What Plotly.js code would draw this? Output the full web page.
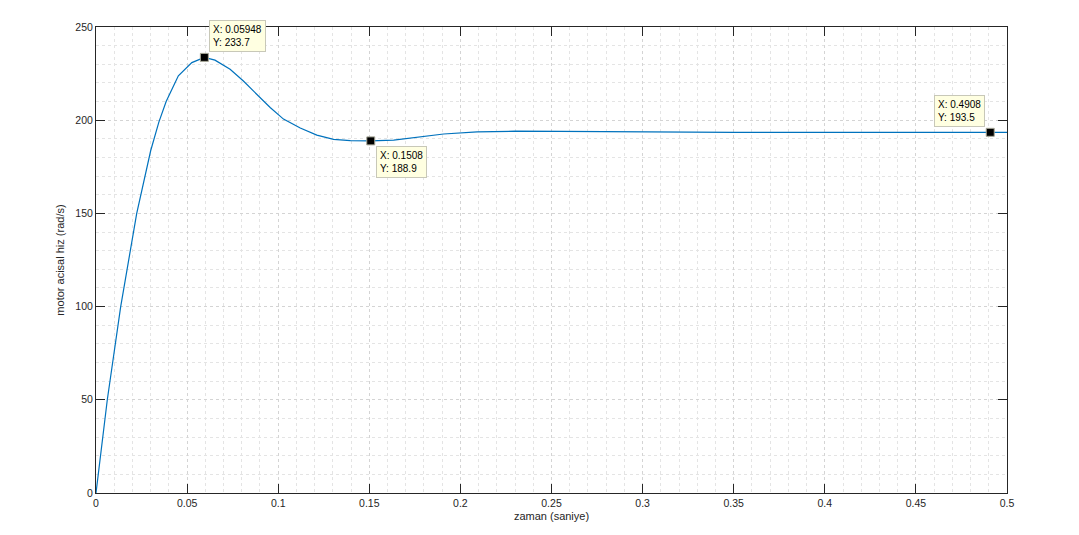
<!DOCTYPE html>
<html>
<head>
<meta charset="utf-8">
<script src="https://cdn.plot.ly/plotly-3.0.1.min.js"></script>
<style>html,body{margin:0;padding:0;background:#fff;}#chart{width:1079px;height:535px;}</style>
</head>
<body>
<div id="chart"></div>
<script>
// time (s)
const timeS = [0, 0.0062, 0.01355, 0.02235, 0.030, 0.0345, 0.0385, 0.0452, 0.0526, 0.05948,
  0.0653, 0.0736, 0.0809, 0.0883, 0.0956, 0.1029, 0.1121, 0.1212, 0.1304, 0.1396, 0.1508,
  0.1634, 0.176, 0.1908, 0.2092, 0.23, 0.255, 0.28, 0.31, 0.35, 0.4, 0.45, 0.4908, 0.5];
// motor angular speed (rad/s)
const speed = [0, 50, 100, 150, 183.6, 199, 210, 223.8, 230.9, 233.7,
  232.2, 227.3, 221, 214, 206.8, 200.6, 195.8, 192, 189.7, 189.0, 188.9,
  189.3, 190.7, 192.6, 193.7, 194.1, 194.0, 193.8, 193.6, 193.5, 193.5, 193.5, 193.5, 193.5];
// data tips
const tipX = [0.05948, 0.1508, 0.4908];
const tipY = [233.7, 188.9, 193.5];
const tipXLabel = ["0.05948", "0.1508", "0.4908"];
const tipYLabel = ["233.7", "188.9", "193.5"];

const xTicks = [0, 0.05, 0.1, 0.15, 0.2, 0.25, 0.3, 0.35, 0.4, 0.45, 0.5];
const xTickLabels = ["0", "0.05", "0.1", "0.15", "0.2", "0.25", "0.3", "0.35", "0.4", "0.45", "0.5"];
const yTicks = [0, 50, 100, 150, 200, 250];
const yTickLabels = ["0", "50", "100", "150", "200", "250"];

const tipPlace = [
  {xanchor: 'left', yanchor: 'bottom', xshift: 5, yshift: 5},
  {xanchor: 'left', yanchor: 'top', xshift: 5, yshift: -5},
  {xanchor: 'right', yanchor: 'bottom', xshift: -5, yshift: 5}
];

const annotations = tipX.map((x, i) => Object.assign({
  x: x, y: tipY[i], xref: 'x', yref: 'y',
  text: 'X: ' + tipXLabel[i] + '<br>Y: ' + tipYLabel[i],
  showarrow: false, align: 'left',
  bgcolor: '#ffffe1', bordercolor: '#c8c8b8', borderwidth: 1, borderpad: 3,
  font: {family: 'Liberation Sans, Arial, sans-serif', size: 10, color: '#000'}
}, tipPlace[i]));

const traces = [
  {x: timeS, y: speed, type: 'scatter', mode: 'lines',
   line: {color: '#0072bd', width: 1.2}, hoverinfo: 'x+y'},
  {x: tipX, y: tipY, type: 'scatter', mode: 'markers',
   marker: {symbol: 'square', size: 8, color: '#000', line: {color: '#a8a898', width: 1}}}
];

const axisCommon = {
  showline: true, linecolor: '#262626', linewidth: 1, mirror: 'ticks',
  ticks: 'inside', ticklen: 9, tickwidth: 1, tickcolor: '#262626',
  showgrid: true, gridcolor: '#d4d4d4', griddash: 'dot', gridwidth: 1,
  zeroline: false,
  tickfont: {family: 'Liberation Sans, Arial, sans-serif', size: 10.5, color: '#262626'}
};

const layout = {
  width: 1079, height: 535,
  margin: {l: 96, r: 72, t: 27, b: 42},
  paper_bgcolor: '#fff', plot_bgcolor: '#fff',
  showlegend: false,
  xaxis: Object.assign({}, axisCommon, {
    range: [0, 0.5], tickvals: xTicks, ticktext: xTickLabels,
    minor: {dtick: 0.01, showgrid: true, gridcolor: '#e4e4e4', griddash: 'dot', gridwidth: 1, ticks: ''},
    title: {text: 'zaman (saniye)', standoff: 4,
      font: {family: 'Liberation Sans, Arial, sans-serif', size: 11, color: '#262626'}}
  }),
  yaxis: Object.assign({}, axisCommon, {
    range: [0, 250], tickvals: yTicks, ticktext: yTickLabels,
    minor: {dtick: 10, showgrid: true, gridcolor: '#e4e4e4', griddash: 'dot', gridwidth: 1, ticks: ''},
    title: {text: 'motor acisal hiz (rad/s)', standoff: 8,
      font: {family: 'Liberation Sans, Arial, sans-serif', size: 11, color: '#262626'}}
  }),
  annotations: annotations
};

Plotly.newPlot('chart', traces, layout, {displayModeBar: false, staticPlot: true});
</script>
</body>
</html>
